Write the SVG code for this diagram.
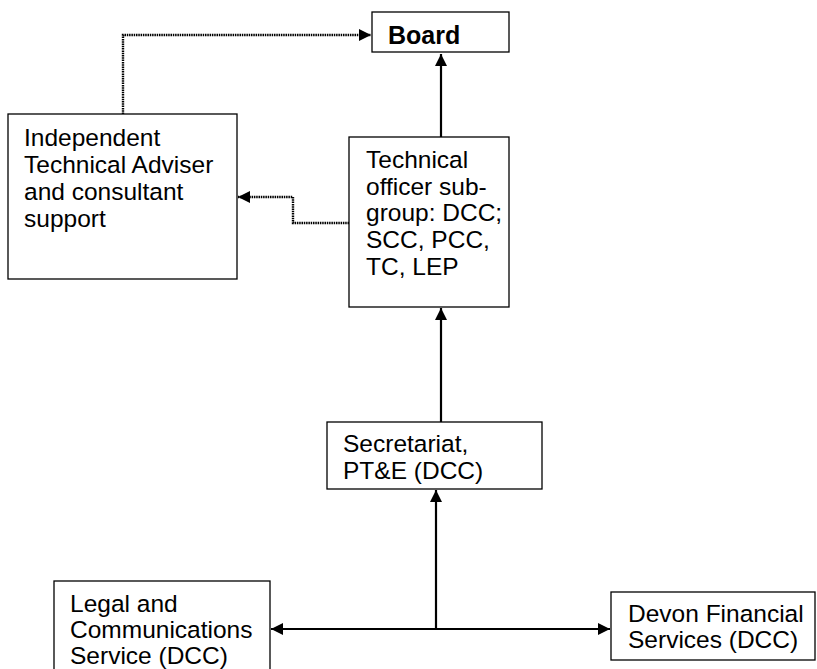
<svg xmlns="http://www.w3.org/2000/svg" width="817" height="669" viewBox="0 0 817 669">
<style>
.box{fill:#fff;stroke:#000;stroke-width:1.3}
.t{font-family:"Liberation Sans",Arial,sans-serif;font-size:24.5px;fill:#000}
.b{font-family:"Liberation Sans",Arial,sans-serif;font-size:25px;font-weight:bold;fill:#000}
.solid{fill:none;stroke:#000;stroke-width:2.2}
.dot{fill:none;stroke:#000;stroke-width:2.4;stroke-dasharray:1.5 0.8}
</style>
<defs>
<marker id="ah" markerUnits="userSpaceOnUse" markerWidth="13" markerHeight="12" refX="12" refY="6" orient="auto">
<path d="M0,0 L12,6 L0,12 z" fill="#000"/>
</marker>
</defs>
<rect width="817" height="669" fill="#fff"/>
<g id="connectors">
<path class="dot" d="M123,114 V35 H371" marker-end="url(#ah)"/>
<path class="dot" d="M349,223 H293 V197 H238" marker-end="url(#ah)"/>
<path class="solid" d="M441,137 V54" marker-end="url(#ah)"/>
<path class="solid" d="M441,422 V308" marker-end="url(#ah)"/>
<path class="solid" d="M436,629 V490" marker-end="url(#ah)"/>
<path class="solid" d="M436,629 H271" marker-end="url(#ah)"/>
<path class="solid" d="M436,629 H610" marker-end="url(#ah)"/>
</g>
<g id="board">
<rect class="box" x="372" y="12" width="137" height="40"/>
<text class="b" x="388" y="44">Board</text>
</g>
<g id="adviser">
<rect class="box" x="8" y="114" width="229" height="165"/>
<text class="t" x="24" y="146">Independent</text>
<text class="t" x="24" y="173">Technical Adviser</text>
<text class="t" x="24" y="200">and consultant</text>
<text class="t" x="24" y="227">support</text>
</g>
<g id="technical">
<rect class="box" x="349" y="137" width="160" height="170"/>
<text class="t" x="366" y="168">Technical</text>
<text class="t" x="366" y="195">officer sub-</text>
<text class="t" x="366" y="221">group: DCC;</text>
<text class="t" x="366" y="248">SCC, PCC,</text>
<text class="t" x="366" y="275">TC, LEP</text>
</g>
<g id="secretariat">
<rect class="box" x="327" y="422" width="215" height="67"/>
<text class="t" x="343" y="452">Secretariat,</text>
<text class="t" x="343" y="479">PT&amp;E (DCC)</text>
</g>
<g id="legal">
<rect class="box" x="54" y="581" width="216" height="100"/>
<text class="t" x="70" y="612">Legal and</text>
<text class="t" x="70" y="638">Communications</text>
<text class="t" x="70" y="664">Service (DCC)</text>
</g>
<g id="devon">
<rect class="box" x="611" y="592" width="204" height="68"/>
<text class="t" x="628" y="622">Devon Financial</text>
<text class="t" x="628" y="648">Services (DCC)</text>
</g>
</svg>
